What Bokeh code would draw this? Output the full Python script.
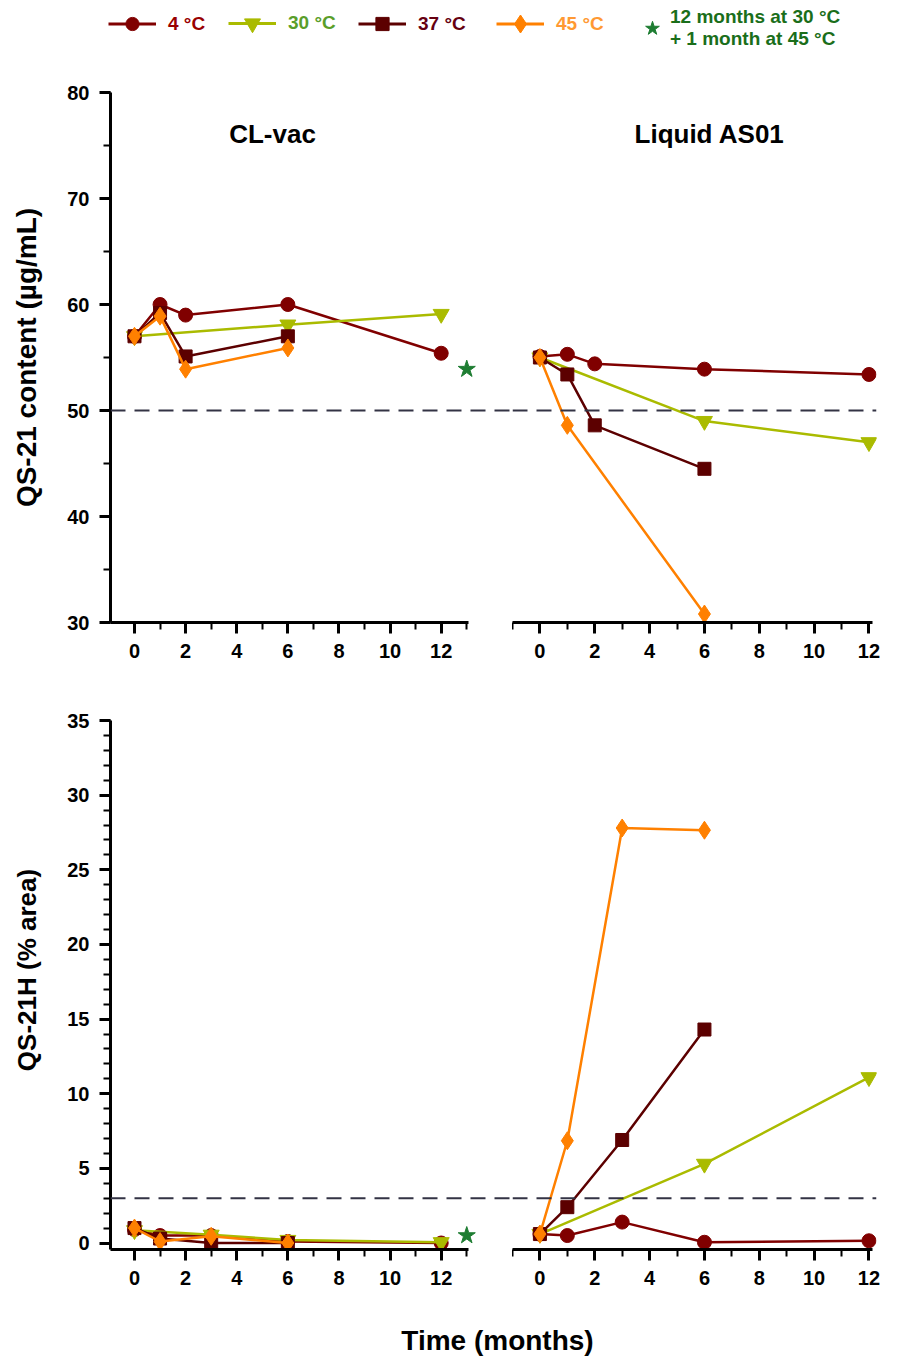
from bokeh.plotting import figure
from bokeh.models import Range1d, Span, Label, Legend, LegendItem, SingleIntervalTicker
from bokeh.layouts import column, row
from bokeh.embed import file_html
from bokeh.resources import INLINE

FONT = "Liberation Sans"

# ---------------- data ----------------
temps = ["4 °C", "30 °C", "37 °C", "45 °C"]
star_label = "12 months at 30 °C\n+ 1 month at 45 °C"
panel_titles = ["CL-vac", "Liquid AS01"]
y_titles = ["QS-21 content (µg/mL)", "QS-21H (% area)"]
x_title = "Time (months)"

content_limit = 50   # dashed reference line, top row
qs21h_limit = 3      # dashed reference line, bottom row

# CL-vac : QS-21 content (µg/mL)
clvac_c_t4 = [0, 1, 2, 6, 12]
clvac_c_4 = [57.0, 60.0, 59.0, 60.0, 55.4]
clvac_c_t30 = [0, 6, 12]
clvac_c_30 = [57.0, 58.1, 59.1]
clvac_c_t37 = [0, 1, 2, 6]
clvac_c_37 = [57.0, 59.2, 55.1, 57.0]
clvac_c_t45 = [0, 1, 2, 6]
clvac_c_45 = [57.0, 58.9, 53.9, 55.9]

# Liquid AS01 : QS-21 content (µg/mL)
as01_c_t4 = [0, 1, 2, 6, 12]
as01_c_4 = [55.1, 55.3, 54.4, 53.9, 53.4]
as01_c_t30 = [0, 6, 12]
as01_c_30 = [55.0, 49.0, 47.0]
as01_c_t37 = [0, 1, 2, 6]
as01_c_37 = [55.0, 53.4, 48.6, 44.5]
as01_c_t45 = [0, 1, 6]
as01_c_45 = [55.0, 48.6, 30.8]

# CL-vac : QS-21H (% area)
clvac_h_t4 = [0, 1, 3, 6, 12]
clvac_h_4 = [0.9, 0.5, 0.5, 0.1, 0.0]
clvac_h_t30 = [0, 3, 6, 12]
clvac_h_30 = [0.85, 0.55, 0.2, 0.05]
clvac_h_t37 = [0, 1, 3, 6]
clvac_h_37 = [1.0, 0.3, 0.0, 0.0]
clvac_h_t45 = [0, 1, 3, 6]
clvac_h_45 = [1.0, 0.1, 0.45, 0.0]

# Liquid AS01 : QS-21H (% area)
as01_h_t4 = [0, 1, 3, 6, 12]
as01_h_4 = [0.6, 0.5, 1.4, 0.05, 0.15]
as01_h_t30 = [0, 6, 12]
as01_h_30 = [0.6, 5.3, 11.1]
as01_h_t37 = [0, 1, 3, 6]
as01_h_37 = [0.6, 2.4, 6.9, 14.3]
as01_h_t45 = [0, 1, 3, 6]
as01_h_45 = [0.6, 6.85, 27.8, 27.65]

# 12 months at 30 °C + 1 month at 45 °C (CL-vac)
star_t = [13]
star_content = [53.9]
star_qs21h = [0.5]

# ---------------- styles ----------------
line_colors = ["#800000", "#AABB00", "#5C0000", "#FF8000"]
text_colors = ["#990000", "#5A9E2A", "#660011", "#FF9933"]
markers = ["circle", "inverted_triangle", "square", "diamond"]
msizes = [14, 16, 13, 18]
star_color = "#1E7D32"
star_text_color = "#1A6E1A"


def style_axis(ax):
    ax.axis_line_width = 3
    ax.axis_line_color = "black"
    ax.major_tick_line_width = 3
    ax.major_tick_line_color = "black"
    ax.major_tick_out = 11
    ax.major_tick_in = 0
    ax.minor_tick_line_width = 2
    ax.minor_tick_line_color = "black"
    ax.minor_tick_out = 7
    ax.minor_tick_in = 0
    ax.major_label_text_font = FONT
    ax.major_label_text_font_style = "bold"
    ax.major_label_text_font_size = "20px"
    ax.major_label_text_color = "black"
    ax.major_label_standoff = 10


def make_panel(width, height, xr, yr, borders, xbounds, ybounds, yticker,
               series, star, limit, title, title_xy, ytitle, ytitle_size):
    left, right, top, bottom = borders
    p = figure(width=width, height=height, x_range=Range1d(*xr), y_range=Range1d(*yr),
               output_backend="svg", toolbar_location=None,
               y_axis_location="left" if ytitle else None,
               min_border_left=left, min_border_right=right,
               min_border_top=top, min_border_bottom=bottom)
    p.outline_line_color = None
    p.grid.visible = False
    xa = p.xaxis[0]
    xa.ticker = SingleIntervalTicker(interval=2, num_minor_ticks=2)
    xa.bounds = xbounds
    style_axis(xa)
    if ytitle:
        ya = p.yaxis[0]
        ya.ticker = yticker
        ya.bounds = ybounds
        style_axis(ya)
        ya.axis_label = ytitle
        ya.axis_label_text_font = FONT
        ya.axis_label_text_font_style = "bold"
        ya.axis_label_text_font_size = ytitle_size
        ya.axis_label_text_color = "black"
        ya.axis_label_standoff = 22
    p.add_layout(Span(location=limit, dimension="width", line_color="#333344",
                      line_dash="15 9", line_width=2))
    for i, (t, v) in enumerate(series):
        p.line(t, v, line_color=line_colors[i], line_width=2.5)
        p.scatter(t, v, marker=markers[i], size=msizes[i], fill_color=line_colors[i],
                  line_color=line_colors[i])
    if star is not None:
        p.scatter(star[0], star[1], marker="star", size=18, fill_color=star_color,
                  line_color=star_color)
    if title:
        p.add_layout(Label(x=title_xy[0], y=title_xy[1], text=title, text_font=FONT,
                           text_font_style="bold", text_font_size="26px",
                           text_align="center", text_baseline="middle", text_color="black"))
    return p


X_LEFT = (-0.939, 14.79)
X_RIGHT = (-1.0, 12.275)
Y_TOP = (30, 80)
Y_BOT = (-0.435, 37.01)

tl = make_panel(512, 622, X_LEFT, Y_TOP, (110, 0, 24, 68), (-0.94, 13.07), (30, 80),
                SingleIntervalTicker(interval=10, num_minor_ticks=2),
                [(clvac_c_t4, clvac_c_4), (clvac_c_t30, clvac_c_30),
                 (clvac_c_t37, clvac_c_37), (clvac_c_t45, clvac_c_45)],
                (star_t, star_content), content_limit, panel_titles[0], (5.4, 76.1),
                y_titles[0], "28px")
tr = make_panel(384, 622, X_RIGHT, Y_TOP, (0, 20, 24, 68), (-1.0, 12.12), None, None,
                [(as01_c_t4, as01_c_4), (as01_c_t30, as01_c_30),
                 (as01_c_t37, as01_c_37), (as01_c_t45, as01_c_45)],
                None, content_limit, panel_titles[1], (6.19, 76.1), None, None)
bl = make_panel(512, 615, X_LEFT, Y_BOT, (110, 0, 0, 56), (-0.94, 13.07), (-0.435, 35),
                SingleIntervalTicker(interval=5, num_minor_ticks=5),
                [(clvac_h_t4, clvac_h_4), (clvac_h_t30, clvac_h_30),
                 (clvac_h_t37, clvac_h_37), (clvac_h_t45, clvac_h_45)],
                (star_t, star_qs21h), qs21h_limit, None, None, y_titles[1], "26px")
br = make_panel(384, 615, X_RIGHT, Y_BOT, (0, 20, 0, 56), (-1.0, 12.12), None, None,
                [(as01_h_t4, as01_h_4), (as01_h_t30, as01_h_30),
                 (as01_h_t37, as01_h_37), (as01_h_t45, as01_h_45)],
                None, qs21h_limit, None, None, None, None)

# ---------------- legend strip ----------------
LEG_H = 68
leg = figure(width=896, height=LEG_H, x_range=Range1d(0, 1), y_range=Range1d(0, 1),
             output_backend="svg", toolbar_location=None,
             x_axis_location=None, y_axis_location=None, min_border=0)
leg.outline_line_color = None
leg.grid.visible = False
leg_x = [108, 228, 358, 496]
leg_glyph_h = [33, 40, 33, 45]   # legend marker size = 0.4 * glyph box
LEG_CY = 23
swatch = [0.5]  # hidden swatch renderers: only their legend glyphs are shown


def legend_box(items, loc, color, standoff, gw, gh):
    lg = Legend(items=items, location=loc, orientation="horizontal",
                glyph_width=gw, glyph_height=gh, label_height=20, label_standoff=standoff,
                padding=0, margin=0, spacing=0, border_line_alpha=0, background_fill_alpha=0,
                label_text_font=FONT, label_text_font_style="bold",
                label_text_font_size="19px", label_text_color=color)
    leg.add_layout(lg)


for i, name in enumerate(temps):
    lr = leg.line(x=swatch, y=swatch, line_color=line_colors[i], line_width=3, visible=False)
    sr = leg.scatter(x=swatch, y=swatch, marker=markers[i], size=msizes[i],
                     fill_color=line_colors[i], line_color=line_colors[i], visible=False)
    gh = leg_glyph_h[i]
    legend_box([LegendItem(label=name, renderers=[lr, sr])],
               (leg_x[i], round(LEG_H - LEG_CY - gh / 2)), text_colors[i], 12, 48, gh)

st = leg.scatter(x=swatch, y=swatch, marker="star", size=18, fill_color=star_color,
                 line_color=star_color, visible=False)
legend_box([LegendItem(label=star_label, renderers=[st])], (634, 18), star_text_color, 0, 36, 40)

# ---------------- x title strip ----------------
xt = figure(width=896, height=55, x_range=Range1d(0, 896), y_range=Range1d(0, 55),
            output_backend="svg", toolbar_location=None,
            x_axis_location=None, y_axis_location=None, min_border=0)
xt.outline_line_color = None
xt.grid.visible = False
xt.add_layout(Label(x=497, y=20, text=x_title, text_font=FONT, text_font_style="bold",
                    text_font_size="28px", text_align="center", text_baseline="middle",
                    text_color="black"))

layout = column(leg, row(tl, tr), row(bl, br), xt)
open("out.html", "w").write(file_html(layout, INLINE))
